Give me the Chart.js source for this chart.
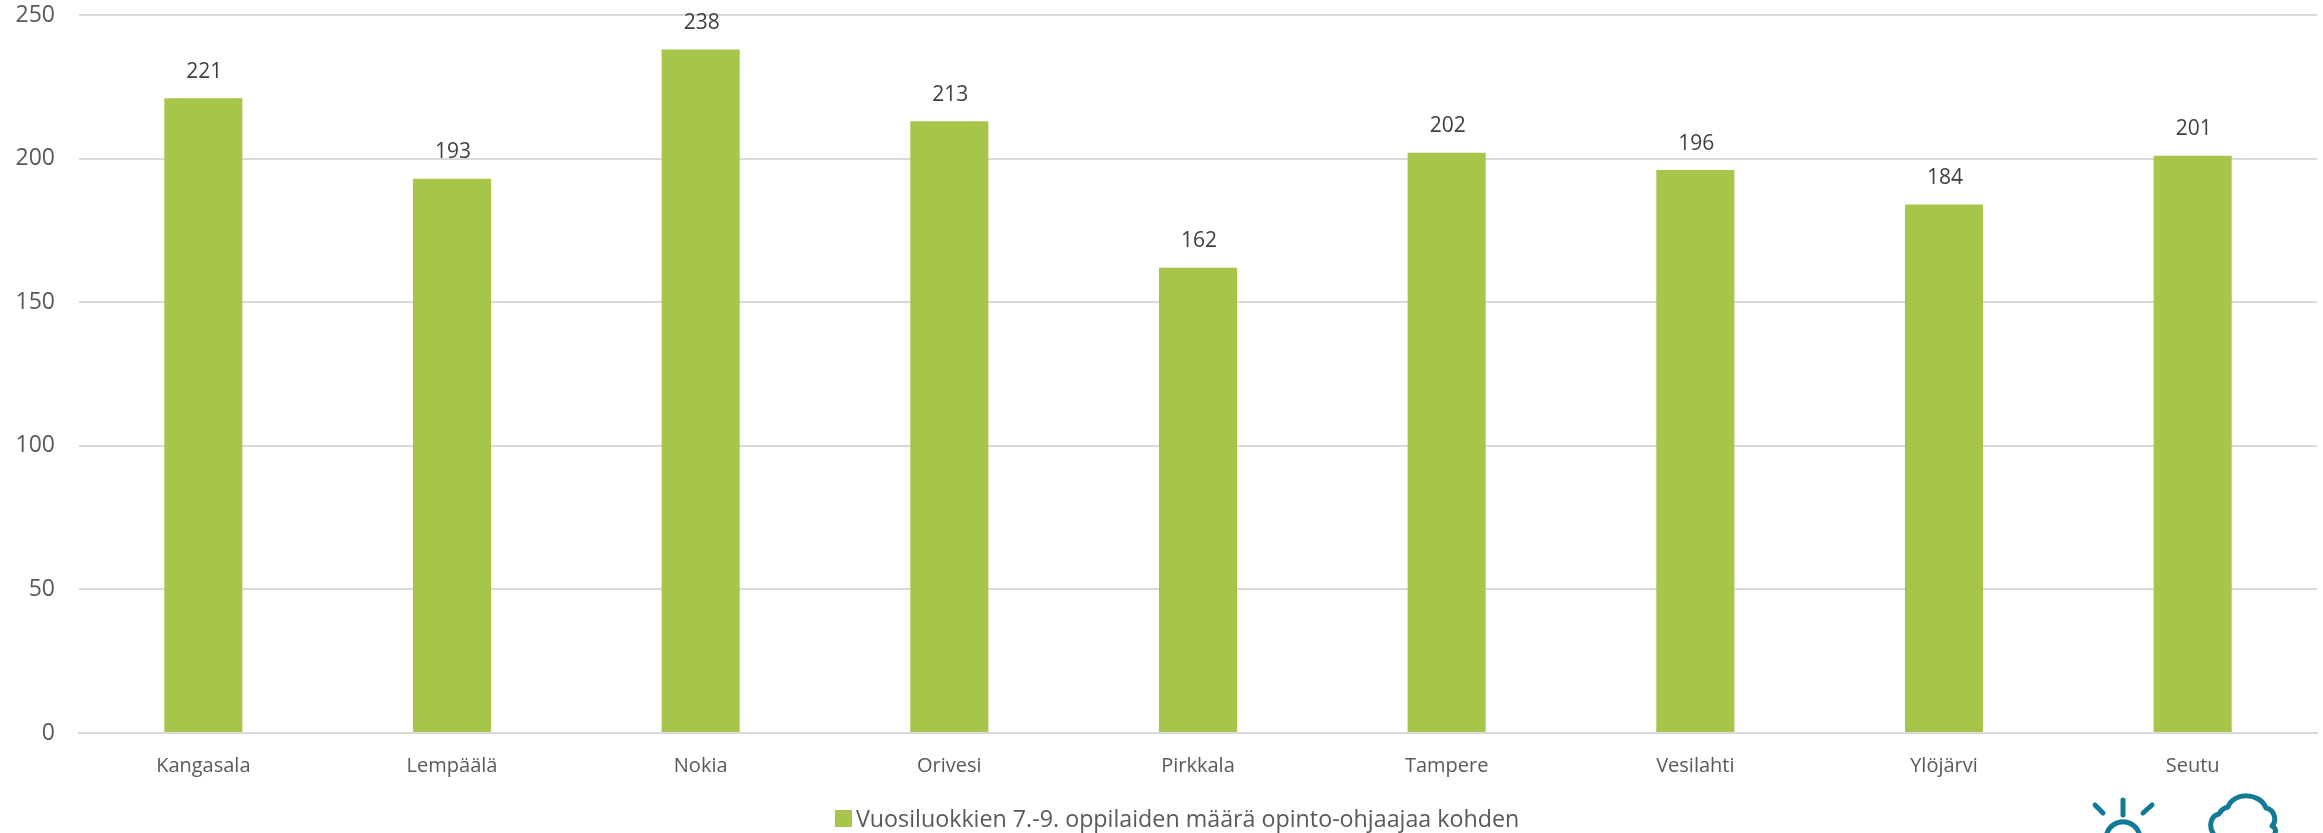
<!DOCTYPE html>
<html>
<head>
<meta charset="utf-8">
<style>
  html,body{margin:0;padding:0;background:#fff;overflow:hidden}
  #wrap{position:relative;width:2323px;height:833px}
  #logo{position:absolute;left:2085px;top:790px}
  #legend{position:absolute;left:835px;top:802px;height:32px;display:flex;align-items:center;font:23.25px 'Open Sans',sans-serif;color:#595959;white-space:nowrap}
  #legend i{display:block;width:17px;height:17px;background:#a7c44b;margin-right:4px}
</style>
<script src="https://cdn.jsdelivr.net/npm/chart.js@4"></script>
</head>
<body>
<div id="wrap">
  <canvas id="chart" width="2323" height="833"></canvas>
  <div id="legend"><i></i><span id="legendText"></span></div>
  <svg id="logo" width="200" height="43" viewBox="0 0 200 43" fill="none" stroke="#127a96" stroke-width="5" stroke-linecap="round" stroke-linejoin="round">
    <path d="M38 10V25M10 15L18 23M67 15L58 23"/>
    <path d="M22 43A17 17 0 0 1 54 43"/>
    <path d="M128 43C124 37 125 26 134 24C136 20 139 18 143 17C148 2 175 2 181 18C190 20 192 31 187 36C191 38 191 41 190 43"/>
  </svg>
</div>
<script>
const categories = ['Kangasala','Lempäälä','Nokia','Orivesi','Pirkkala','Tampere','Vesilahti','Ylöjärvi','Seutu'];
const studentsPerCounsellor = [221,193,238,213,162,202,196,184,201];
const seriesLabel = 'Vuosiluokkien 7.-9. oppilaiden määrä opinto-ohjaajaa kohden';
const yTicks = [0,50,100,150,200,250];

const fontFamily = "'Open Sans', sans-serif";

document.getElementById('legendText').textContent = seriesLabel;

const barLabels = {
  id:'barLabels',
  afterDatasetsDraw(chart){
    const { ctx } = chart;
    ctx.save();
    ctx.font = `21px ${fontFamily}`;
    ctx.fillStyle = '#404040';
    ctx.textAlign = 'center';
    ctx.textBaseline = 'bottom';
    chart.getDatasetMeta(0).data.forEach((bar,i)=>{
      ctx.fillText(studentsPerCounsellor[i], bar.x + 1, bar.y - 16);
    });
    ctx.restore();
  }
};

new Chart(document.getElementById('chart'), {
  type:'bar',
  data:{ labels:categories, datasets:[{
    label:seriesLabel, data:studentsPerCounsellor,
    backgroundColor:'#a7c44b', borderWidth:0,
    categoryPercentage:1, barPercentage:0.314
  }]},
  options:{
    responsive:false, animation:false,
    layout:{ padding:{ top:15, right:6, bottom:34, left:0 } },
    plugins:{ tooltip:{enabled:false}, legend:{display:false} },
    scales:{
      x:{ grid:{display:false, drawTicks:false}, border:{color:'#d9d9d9', width:2},
        ticks:{ color:'#595959', font:{family:fontFamily, size:20}, padding:21, maxRotation:0 } },
      y:{ min:0, max:250, afterBuildTicks:a=>{ a.ticks = yTicks.map(value=>({value})); },
        // tick padding would otherwise push the plot area down from the top edge
        afterFit:a=>{ a.width = 79; a.paddingTop = 0; a.paddingBottom = 0; },
        grid:{ color:'#d9d9d9', lineWidth:2, drawTicks:false }, border:{display:false},
        ticks:{ color:'#595959', font:{family:fontFamily, size:23}, padding:24 } }
    }
  },
  plugins:[barLabels]
});
</script>
</body>
</html>
